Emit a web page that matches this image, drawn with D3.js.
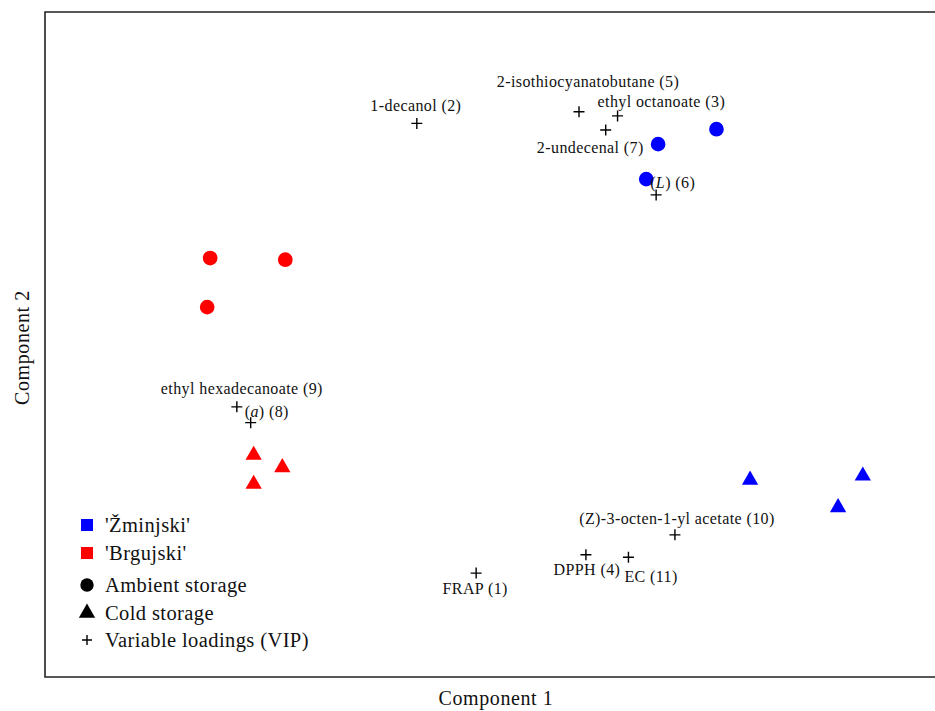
<!DOCTYPE html>
<html><head><meta charset="utf-8">
<script src="https://cdn.jsdelivr.net/npm/d3@7"></script>
<style>body{margin:0;background:#fff}</style>
</head><body>
<svg id="c" width="935" height="711"></svg>
<script>
// Sample scores (Component 1, Component 2)
const cultivars = ["'Žminjski'", "'Brgujski'"];
const cultivarColors = ["#0000ff", "#ff0000"];
const storages = ["Ambient storage", "Cold storage"];
const samples = [
  {cultivar: 0, storage: 0, c1: 2.79, c2: 2.59},
  {cultivar: 0, storage: 0, c1: 2.20, c2: 2.41},
  {cultivar: 0, storage: 0, c1: 2.08, c2: 1.99},
  {cultivar: 1, storage: 0, c1: -2.33, c2: 1.04},
  {cultivar: 1, storage: 0, c1: -1.57, c2: 1.02},
  {cultivar: 1, storage: 0, c1: -2.36, c2: 0.45},
  {cultivar: 0, storage: 1, c1: 3.13, c2: -1.63},
  {cultivar: 0, storage: 1, c1: 4.27, c2: -1.58},
  {cultivar: 0, storage: 1, c1: 4.02, c2: -1.96},
  {cultivar: 1, storage: 1, c1: -1.89, c2: -1.33},
  {cultivar: 1, storage: 1, c1: -1.60, c2: -1.48},
  {cultivar: 1, storage: 1, c1: -1.89, c2: -1.68}
];
// Variable loadings (VIP)
const loadingNames = ["FRAP (1)", "1-decanol (2)", "ethyl octanoate (3)", "DPPH (4)",
  "2-isothiocyanatobutane (5)", "|L| (6)", "2-undecenal (7)", "|a| (8)",
  "ethyl hexadecanoate (9)", "(Z)-3-octen-1-yl acetate (10)", "EC (11)"];
const loadingC1 = [0.36, -0.24, 1.79, 1.47, 1.40, 2.18, 1.67, -1.92, -2.06, 2.37, 1.90];
const loadingC2 = [-2.75, 2.66, 2.75, -2.53, 2.80, 1.80, 2.58, -0.94, -0.75, -2.29, -2.56];
const legendLabels = ["'Žminjski'", "'Brgujski'", "Ambient storage", "Cold storage", "Variable loadings (VIP)"];
const axisTitles = ["Component 1", "Component 2"];

// label placement (pixel offsets from the cross, anchor)
const labelPlacement = [
  [-1, 21, "middle"], [-1, -12, "middle"], [-20, -9, "start"], [1, 20, "middle"],
  [9, -25, "middle"], [-6, -7, "start"], [38, 23, "end"], [-6, -6, "start"],
  [5, -13, "middle"], [2, -11, "middle"], [-4, 25, "start"]
];
const legendRows = [0, 28, 60, 88, 115];

const svg = d3.select("#c");
const font = "'Liberation Serif', 'DejaVu Serif', serif";
const x = d3.scaleLinear().domain([-4, 5]).range([45, 935]);
const y = d3.scaleLinear().domain([-4, 4]).range([677, 12]);

// frame (left, top, bottom)
const [x0, x1] = x.range(), [y0, y1] = y.range();
svg.append("path")
  .attr("d", `M${x1},${y1}H${x0}V${y0}H${x1}`)
  .attr("fill", "none").attr("stroke", "#222").attr("stroke-width", 1.6);

const tri = d3.symbol().type(d3.symbolTriangle).size(115);
const circ = d3.symbol().type(d3.symbolCircle).size(170);

svg.append("g").selectAll("path").data(samples).join("path")
  .attr("d", d => d.storage === 0 ? circ() : tri())
  .attr("transform", d => `translate(${x(d.c1)},${y(d.c2)})`)
  .attr("fill", d => cultivarColors[d.cultivar]);

function cross(g, s) {
  g.append("path").attr("d", `M${-s},0H${s}M0,${-s}V${s}`)
    .attr("stroke", "#000").attr("stroke-width", 1.4).attr("fill", "none");
}

const lg = svg.append("g");
loadingNames.forEach((name, i) => {
  const px = x(loadingC1[i]), py = y(loadingC2[i]);
  const g = lg.append("g").attr("transform", `translate(${px},${py})`);
  cross(g, 5.5);
  const [dx, dy, anchor] = labelPlacement[i];
  const t = g.append("text").attr("x", dx).attr("y", dy).attr("text-anchor", anchor)
    .attr("font-family", font).attr("font-size", 16).attr("letter-spacing", 0.4).attr("fill", "#111");
  const m = name.match(/^\|(.*)\|(.*)$/);
  if (m) {
    t.append("tspan").text("(");
    t.append("tspan").attr("font-style", "italic").text(m[1]);
    t.append("tspan").text(")" + m[2]);
  } else t.text(name);
});

// legend
const leg = svg.append("g").attr("transform", "translate(87,525)");
legendLabels.forEach((lab, i) => {
  const g = leg.append("g").attr("transform", `translate(0,${legendRows[i]})`);
  if (i < 2) g.append("rect").attr("x", -6).attr("y", -6).attr("width", 12).attr("height", 12).attr("fill", cultivarColors[i]);
  else if (i === 2) g.append("path").attr("d", circ.size(140)()).attr("fill", "#000");
  else if (i === 3) g.append("path").attr("d", tri.size(115)()).attr("fill", "#000");
  else cross(g, 5);
  g.append("text").attr("x", 18).attr("y", 7).attr("font-family", font).attr("font-size", 20.5)
    .attr("letter-spacing", 0.4).attr("fill", "#111").text(lab);
});

svg.append("text").attr("x", (x0 + x1) / 2 + 6).attr("y", 705).attr("text-anchor", "middle")
  .attr("font-family", font).attr("font-size", 20).attr("letter-spacing", 0.6).attr("fill", "#111").text(axisTitles[0]);
svg.append("text").attr("transform", `translate(29,${(y0 + y1) / 2 + 3}) rotate(-90)`)
  .attr("text-anchor", "middle").attr("font-family", font).attr("font-size", 20)
  .attr("letter-spacing", 0.6).attr("fill", "#111").text(axisTitles[1]);
</script>
</body></html>
